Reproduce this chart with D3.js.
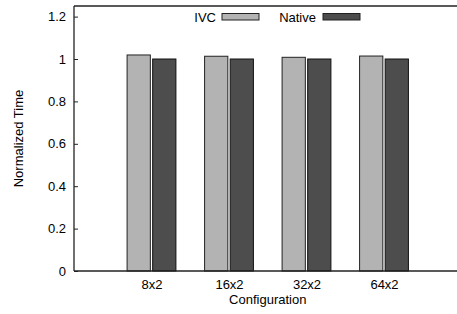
<!DOCTYPE html>
<html>
<head>
<meta charset="utf-8">
<script src="https://cdn.jsdelivr.net/npm/d3@7"></script>
<style>
  body { margin: 0; background: #fff; }
  text { font-family: "Liberation Sans", Arial, sans-serif; fill: #000; }
</style>
</head>
<body>
<div id="chart"></div>
<script>
// ! Data
var configs = ["8x2", "16x2", "32x2", "64x2"];
var ivc_values = [1.019, 1.013, 1.008, 1.014];
var native_values = [1.0, 1.0, 1.0, 1.0];
var y_ticks = [0, 0.2, 0.4, 0.6, 0.8, 1, 1.2];

// ! Parameters
var width = 457, height = 314;
var left = 74, top_y = 6, bottom_y = 271;
var font_size = "13px";

var svg = d3.select("#chart")
  .append("svg")
  .attr("width", width)
  .attr("height", height);

// slots 0..5, configs sit at 1..4
var x = d3.scaleLinear()
  .domain([0, configs.length + 1])
  .range([left, left + 77.5 * (configs.length + 1)]);

var y = d3.scaleLinear()
  .domain([0, 1.25])
  .range([bottom_y, top_y]);

var bar_w = 0.3;   // in slot units
var gap = 0.015;

// IVC bars
svg.selectAll(".ivc")
  .data(ivc_values)
  .enter()
  .append("rect")
  .attr("class", "ivc")
  .attr("x", function(d, i) { return x(i + 1 - gap - bar_w); })
  .attr("y", function(d) { return y(d); })
  .attr("width", function(d, i) { return x(i + 1 - gap) - x(i + 1 - gap - bar_w); })
  .attr("height", function(d) { return y(0) - y(d); })
  .attr("fill", "#b3b3b3")
  .attr("stroke", "#222")
  .attr("stroke-width", 1);

// Native bars
svg.selectAll(".native")
  .data(native_values)
  .enter()
  .append("rect")
  .attr("class", "native")
  .attr("x", function(d, i) { return x(i + 1 + gap); })
  .attr("y", function(d) { return y(d); })
  .attr("width", function(d, i) { return x(i + 1 + gap + bar_w) - x(i + 1 + gap); })
  .attr("height", function(d) { return y(0) - y(d); })
  .attr("fill", "#4d4d4d")
  .attr("stroke", "#111")
  .attr("stroke-width", 1);

// ! Axes
var yAxis = svg.append("g")
  .attr("transform", "translate(" + left + ",0)")
  .call(d3.axisRight(y).tickValues(y_ticks).tickSize(4).tickFormat(d3.format("")));
yAxis.select(".domain").remove();
yAxis.selectAll("line").attr("stroke", "#222");
yAxis.selectAll("text")
  .attr("x", -8)
  .attr("text-anchor", "end")
  .style("font-size", font_size)
  .style("font-family", "'Liberation Sans', Arial, sans-serif");

var xAxis = svg.append("g")
  .attr("transform", "translate(0," + bottom_y + ")")
  .call(d3.axisBottom(x)
    .tickValues(d3.range(1, configs.length + 1))
    .tickSize(0)
    .tickFormat(function(d) { return configs[d - 1]; }));
xAxis.select(".domain").remove();
xAxis.selectAll("text")
  .attr("y", 9)
  .style("font-size", font_size)
  .style("font-family", "'Liberation Sans', Arial, sans-serif");

// frame lines: left, bottom, top
svg.append("line")
  .attr("x1", left).attr("x2", left)
  .attr("y1", top_y).attr("y2", bottom_y)
  .attr("stroke", "#222").attr("stroke-width", 1.3);
svg.append("line")
  .attr("x1", left).attr("x2", width)
  .attr("y1", bottom_y).attr("y2", bottom_y)
  .attr("stroke", "#222").attr("stroke-width", 1.3);
svg.append("line")
  .attr("x1", left).attr("x2", width)
  .attr("y1", top_y).attr("y2", top_y)
  .attr("stroke", "#222").attr("stroke-width", 1.3);

// ! Axis titles
svg.append("text")
  .attr("x", (left + x(configs.length + 1)) / 2)
  .attr("y", 304)
  .attr("text-anchor", "middle")
  .style("font-size", font_size)
  .text("Configuration");

svg.append("text")
  .attr("transform", "translate(23," + ((top_y + bottom_y) / 2) + ") rotate(-90)")
  .attr("text-anchor", "middle")
  .style("font-size", font_size)
  .text("Normalized Time");

// ! Legend
var legend = [
  { label: "IVC", fill: "#b3b3b3", text_end: 216, sw_x: 222 },
  { label: "Native", fill: "#4d4d4d", text_end: 316, sw_x: 323 }
];
legend.forEach(function(l) {
  svg.append("text")
    .attr("x", l.text_end)
    .attr("y", 21.5)
    .attr("text-anchor", "end")
    .style("font-size", font_size)
    .text(l.label);
  svg.append("rect")
    .attr("x", l.sw_x)
    .attr("y", 13.5)
    .attr("width", 37)
    .attr("height", 6.5)
    .attr("fill", l.fill)
    .attr("stroke", "#222")
    .attr("stroke-width", 1);
});
</script>
</body>
</html>
